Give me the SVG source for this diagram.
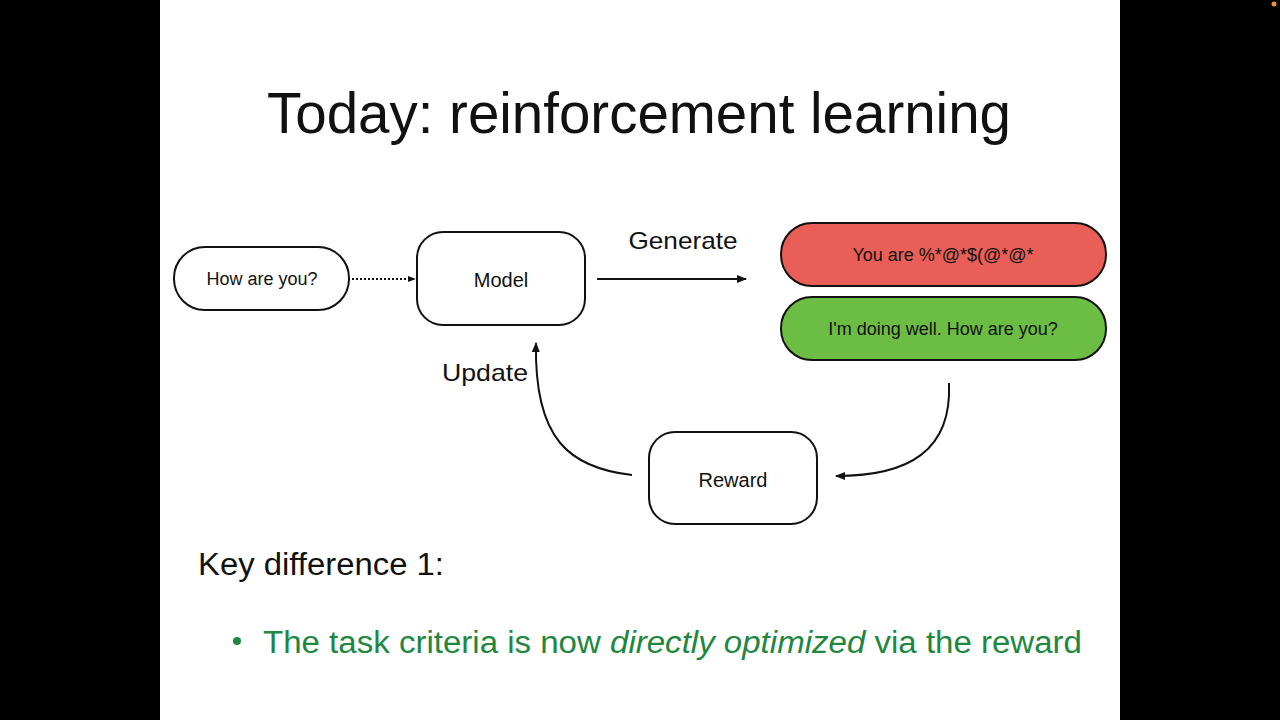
<svg xmlns="http://www.w3.org/2000/svg" width="1280" height="720" viewBox="0 0 1280 720">
<style>
.node{fill:#fff;stroke:#111;stroke-width:2}
.lbl{font-family:"Liberation Sans",Arial,sans-serif;fill:#111;text-anchor:middle;dominant-baseline:central}
.edge{fill:none;stroke:#111;stroke-width:2}
.big{font-family:"Liberation Sans",Arial,sans-serif;fill:#111}
.green{font-family:"Liberation Sans",Arial,sans-serif;fill:#21873e;font-size:31px}
</style>
<defs>
<marker id="ah" viewBox="0 0 10 10" refX="9" refY="5" markerWidth="5" markerHeight="5" orient="auto" markerUnits="strokeWidth">
<path d="M0,1 L10,5 L0,9 z" fill="#111"/>
</marker>
<marker id="ahs" viewBox="0 0 10 10" refX="9" refY="5" markerWidth="4" markerHeight="4" orient="auto" markerUnits="strokeWidth">
<path d="M0,1 L10,5 L0,9 z" fill="#111"/>
</marker>
</defs>
<rect x="0" y="0" width="1280" height="720" fill="#000"/>
<rect x="160" y="0" width="960" height="720" fill="#fff"/>
<circle cx="1274" cy="4" r="2.5" fill="#e8903a"/>
<text class="big" x="267" y="133" font-size="57" textLength="744" lengthAdjust="spacingAndGlyphs">Today: reinforcement learning</text>
<g id="edges">
<path class="edge" d="M352,279 L415,279" stroke-dasharray="2,2" stroke-width="2" marker-end="url(#ahs)"/>
<path class="edge" d="M597,279 L746,279" marker-end="url(#ah)"/>
<path class="edge" d="M949,383 C952,450 910,476 836,476" marker-end="url(#ah)"/>
<path class="edge" d="M632,475 C570,468 534,440 536,343" marker-end="url(#ah)"/>
<text class="big" x="683" y="249" font-size="24" text-anchor="middle" textLength="109" lengthAdjust="spacingAndGlyphs">Generate</text>
<text class="big" x="442" y="381" font-size="24" textLength="86" lengthAdjust="spacingAndGlyphs">Update</text>
</g>
<g id="input">
<rect class="node" x="174" y="247" width="175" height="63" rx="31"/>
<text class="lbl" x="262" y="279" font-size="18">How are you?</text>
</g>
<g id="model">
<rect class="node" x="417" y="232" width="168" height="93" rx="26"/>
<text class="lbl" x="501" y="280" font-size="20">Model</text>
</g>
<g id="bad">
<rect x="781" y="223" width="325" height="63" rx="31" fill="#e95f57" stroke="#111" stroke-width="2"/>
<text class="lbl" x="943" y="255" font-size="18">You are %*@*$(@*@*</text>
</g>
<g id="good">
<rect x="781" y="297" width="325" height="63" rx="31" fill="#6cbd43" stroke="#111" stroke-width="2"/>
<text class="lbl" x="943" y="329" font-size="18">I'm doing well. How are you?</text>
</g>
<g id="reward">
<rect class="node" x="649" y="432" width="168" height="92" rx="26"/>
<text class="lbl" x="733" y="480" font-size="20">Reward</text>
</g>
<text class="big" x="198" y="575" font-size="31" textLength="246" lengthAdjust="spacingAndGlyphs">Key difference 1:</text>
<circle cx="237" cy="641" r="4" fill="#21873e"/>
<text class="green" x="263" y="653" textLength="819" lengthAdjust="spacingAndGlyphs">The task criteria is now <tspan font-style="italic">directly optimized</tspan> via the reward</text>
</svg>
